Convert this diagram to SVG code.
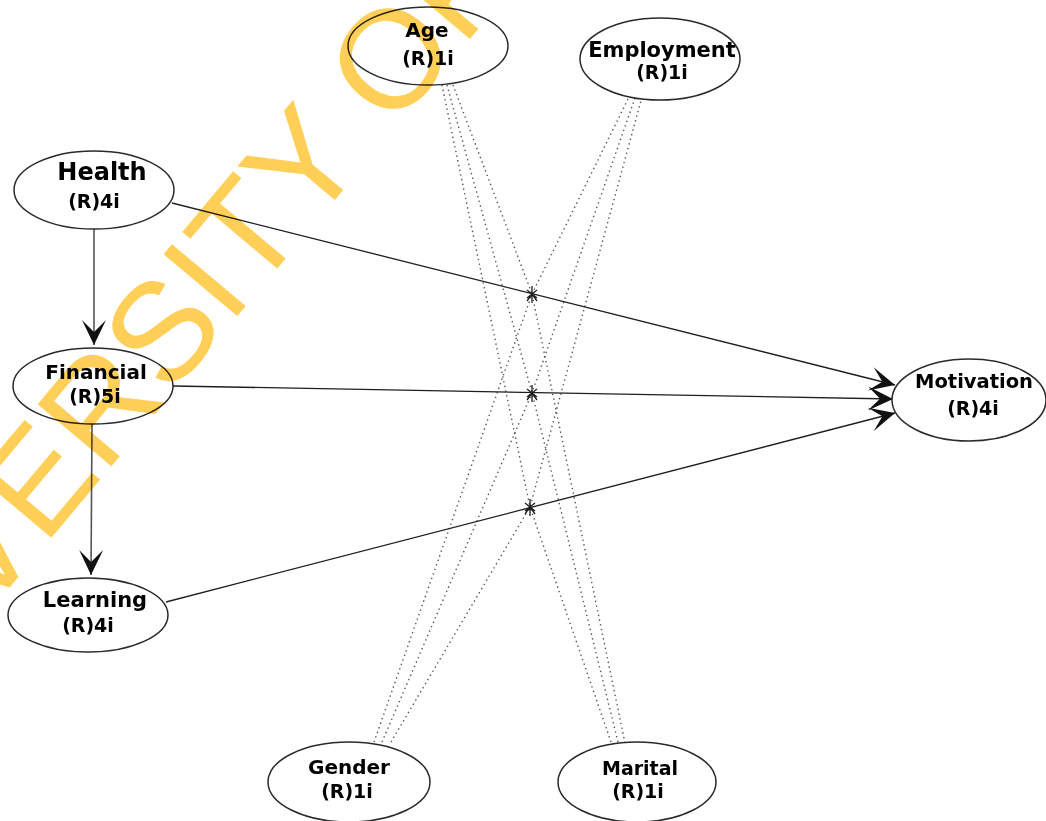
<svg xmlns="http://www.w3.org/2000/svg" width="1046" height="821" viewBox="0 0 1046 821">
<style>
.node ellipse{fill:#fff;stroke:#2a2a2a;stroke-width:1.5}
.t{font-family:"DejaVu Sans",Verdana,sans-serif;font-weight:bold;fill:#000;text-anchor:middle}
.path{fill:none;stroke:#1e1e1e;stroke-width:1.3}
.vert{fill:none;stroke:#555;stroke-width:1.6}
.dot{fill:none;stroke:#555;stroke-width:1.4;stroke-dasharray:1.4 3.4}
.star{fill:none;stroke:#1e1e1e;stroke-width:1.3}
.wm{font-family:"Liberation Sans",Arial,sans-serif;font-size:140px;fill:#FFCF57;mix-blend-mode:multiply}
</style>
<defs>
<marker id="arr" viewBox="-26 -13 28 26" refX="0" refY="0" markerWidth="28" markerHeight="26" markerUnits="userSpaceOnUse" orient="auto">
<path d="M0,0 L-25,-12 L-13,0 L-25,12 Z" fill="#111"/>
</marker>
</defs>
<rect width="1046" height="821" fill="#fff"/>
<g id="connectors">
<g id="dotted">
<path class="dot" d="M453,85 L532,294"/>
<path class="dot" d="M447,85 L532,393"/>
<path class="dot" d="M442,85 L530,507"/>
<path class="dot" d="M628,99 L532,294"/>
<path class="dot" d="M635,98 L532,393"/>
<path class="dot" d="M642,97 L530,507"/>
<path class="dot" d="M374,742 L532,294"/>
<path class="dot" d="M382,742 L532,393"/>
<path class="dot" d="M391,742 L530,507"/>
<path class="dot" d="M611,742 L530,507"/>
<path class="dot" d="M618,742 L532,393"/>
<path class="dot" d="M625,743 L532,294"/>
</g>
<path class="vert" d="M94,229 L94,345" marker-end="url(#arr)"/>
<path class="vert" d="M92,423 L91,575" marker-end="url(#arr)"/>
<path class="path" d="M172,203 L895,385" marker-end="url(#arr)"/>
<path class="path" d="M173,386 L893,399" marker-end="url(#arr)"/>
<path class="path" d="M166,602 L895,413" marker-end="url(#arr)"/>
<path class="star" d="M532,286 L532,303 M527,290 L537,298 M537,290 L527,298 M527,301 L532,294 L537,301"/>
<path class="star" d="M532,385 L532,402 M527,389 L537,397 M537,389 L527,397 M527,400 L532,393 L537,400"/>
<path class="star" d="M530,499 L530,516 M525,503 L535,511 M535,503 L525,511 M525,514 L530,507 L535,514"/>
</g>
<g id="age" class="node">
<ellipse cx="428" cy="46" rx="80" ry="39"/>
<text class="t" x="427" y="37" font-size="20">Age</text>
<text class="t" x="428" y="65" font-size="19">(R)1i</text>
</g>
<g id="employment" class="node">
<ellipse cx="660" cy="59" rx="80" ry="41"/>
<text class="t" x="662" y="57" font-size="21">Employment</text>
<text class="t" x="662" y="79" font-size="19">(R)1i</text>
</g>
<g id="health" class="node">
<ellipse cx="94" cy="190" rx="80" ry="39"/>
<text class="t" x="102" y="180" font-size="24">Health</text>
<text class="t" x="94" y="208" font-size="19">(R)4i</text>
</g>
<g id="financial" class="node">
<ellipse cx="93" cy="386" rx="80" ry="38"/>
<text class="t" x="96" y="379" font-size="20">Financial</text>
<text class="t" x="95" y="403" font-size="19">(R)5i</text>
</g>
<g id="learning" class="node">
<ellipse cx="88" cy="615" rx="80" ry="37"/>
<text class="t" x="95" y="607" font-size="21">Learning</text>
<text class="t" x="88" y="632" font-size="19">(R)4i</text>
</g>
<g id="motivation" class="node">
<ellipse cx="969" cy="400" rx="77" ry="41"/>
<text class="t" x="974" y="388" font-size="19.5">Motivation</text>
<text class="t" x="973" y="415" font-size="19">(R)4i</text>
</g>
<g id="gender" class="node">
<ellipse cx="349" cy="782" rx="81" ry="40"/>
<text class="t" x="349" y="774" font-size="20">Gender</text>
<text class="t" x="347" y="798" font-size="19">(R)1i</text>
</g>
<g id="marital" class="node">
<ellipse cx="637" cy="782" rx="79" ry="40"/>
<text class="t" x="640" y="775" font-size="19">Marital</text>
<text class="t" x="638" y="798" font-size="19">(R)1i</text>
</g>
<text class="wm" transform="translate(-16,618) rotate(-50)">VERSITY OF</text>
</svg>
